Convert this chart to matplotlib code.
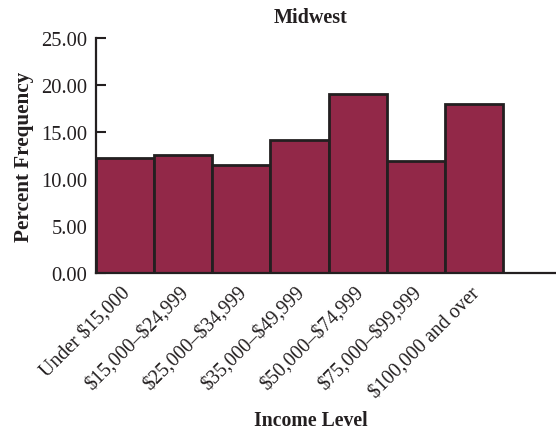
import matplotlib
matplotlib.use("Agg")
import matplotlib.pyplot as plt
import matplotlib.transforms as mtransforms
import numpy as np

categories = ["Under $15,000", "$15,000–$24,999", "$25,000–$34,999",
              "$35,000–$49,999", "$50,000–$74,999", "$75,000–$99,999",
              "$100,000 and over"]
percent = [12.3, 12.6, 11.5, 14.2, 19.1, 11.9, 18.0]
yticks = [0, 5, 10, 15, 20, 25]

plt.rcParams["font.family"] = ["Liberation Serif", "DejaVu Serif"]
plt.rcParams["text.parse_math"] = False

W, H = 556, 431
fig = plt.figure(figsize=(W / 100, H / 100), dpi=100)
left, right, bottom, top = 95.7, 556, 274, 39.3
ax = fig.add_axes([left / W, 1 - bottom / H, (right - left) / W, (bottom - top) / H])

x = np.arange(len(categories))
ax.bar(x, percent, width=1.0, color="#922848", edgecolor="#231f20",
       linewidth=2.0, align="center", zorder=2)

bar_px = (503.3 - left) / len(categories)
ax.set_xlim(-0.5, -0.5 + (right - left) / bar_px)
ax.set_ylim(0, 25)

ax.spines["top"].set_visible(False)
ax.spines["right"].set_visible(False)
for s in ("left", "bottom"):
    ax.spines[s].set_linewidth(1.6)
    ax.spines[s].set_color("#231f20")
    ax.spines[s].set_zorder(3)

ax.set_yticks(yticks)
ax.set_yticklabels([f"{v:.2f}" for v in yticks], fontsize=14.8, color="#231f20")
ax.tick_params(axis="y", direction="in", length=7, width=1.5, pad=6, color="#231f20")

ax.set_xticks(x)
ax.set_xticklabels(categories, rotation=45, ha="right", rotation_mode="anchor",
                   fontsize=14.2, color="#231f20")
ax.tick_params(axis="x", length=0, pad=7)
shift = mtransforms.ScaledTranslation(-4 / 100, 0, fig.dpi_scale_trans)
for lbl in ax.get_xticklabels():
    lbl.set_transform(lbl.get_transform() + shift)

fig.text(311 / W, 1 - 18 / H, "Midwest", ha="center", va="center",
         fontsize=14.5, fontweight="bold", color="#231f20")
fig.text(311 / W, 1 - 421 / H, "Income Level", ha="center", va="center",
         fontsize=14.2, fontweight="bold", color="#231f20")
fig.text(24 / W, 1 - 157 / H, "Percent Frequency", ha="center", va="center",
         rotation=90, fontsize=15.2, fontweight="bold", color="#231f20")

fig.savefig("out.png", dpi=100)
